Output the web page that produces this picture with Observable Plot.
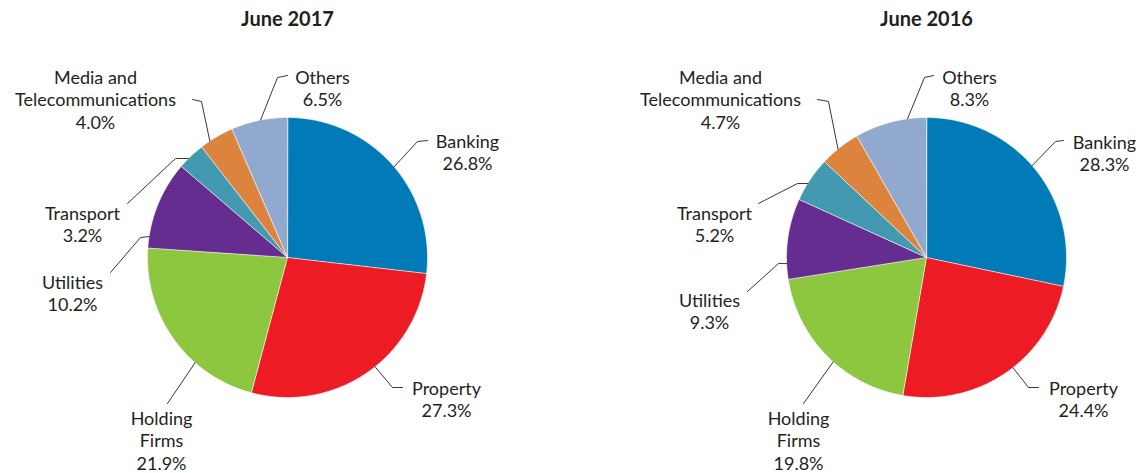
<!DOCTYPE html>
<html>
<head>
<meta charset="utf-8">
<script src="https://cdn.jsdelivr.net/npm/d3@7"></script>
<script src="https://cdn.jsdelivr.net/npm/@observablehq/plot@0.6"></script>
<style>
  html, body { margin: 0; padding: 0; background: #ffffff; }
  #chart svg { display: block; }
</style>
</head>
<body>
<div id="chart"></div>
<script>
// ---------- data ----------
const categories = ["Banking", "Property", "Holding Firms", "Utilities", "Transport", "Media and Telecommunications", "Others"];
const labelNames = ["Banking", "Property", "Holding\nFirms", "Utilities", "Transport", "Media and\nTelecommunications", "Others"];
const values2017 = [26.8, 27.3, 21.9, 10.2, 3.2, 4.0, 6.5];
const values2016 = [28.3, 24.4, 19.8, 9.3, 5.2, 4.7, 8.3];
const titles = ["June 2017", "June 2016"];
const colors = ["#007bb8", "#ed1c24", "#8dc63f", "#662d91", "#4299b0", "#dc843e", "#92a9cf"];

// ---------- layout ----------
const W = 1140, H = 473;
const R = 140;
const centers = [[287, 257], [926, 257]];
const titleY = 19;
const fontSize = 18;
const lineH = 1.26;
const ink = "#231f20";
// label anchor: [x center, y of first line middle]
const labelPos = [
  [[467, 140], [446, 387], [161, 417], [72, 281], [82, 212], [95, 76], [322, 76]],
  [[1104, 141], [1083, 387], [798, 417], [709, 299], [714, 212], [720, 76], [969, 76]]
];
// leader: [start angle on rim (deg, clockwise from top), ...bend points]
const leaders = [
  [[49.6, [417, 141], [427, 140]], [141.3, [392, 387], [402, 387]], [221.3, [167, 403]],
   [278.6, [140, 237], [110, 272]], [315, [175, 158], [127, 203]], [326.3, [201, 101], [192, 99]],
   [348.9, [277, 77], [287, 75]]],
  [[49, [1055, 141], [1063, 140]], [141.9, [1028, 387], [1038, 387]], [221.8, [803, 403]],
   [267.5, [778, 263], [747, 291]], [301.9, [797, 183], [758, 203]], [320.8, [828, 101], [817, 99]],
   [352.2, [924, 77], [933, 75]]]
];

// ---------- build geometry from data ----------
const series = [values2017, values2016];
const slicePts = [];
const labels = [];
const leaderPts = [];
series.forEach((vals, p) => {
  const [cx, cy] = centers[p];
  const arcs = d3.pie().sort(null).value(d => d)(vals);
  arcs.forEach((a, i) => {
    const key = p + "-" + i;
    slicePts.push({key, x: cx, y: cy, color: colors[i]});
    const n = Math.max(2, Math.ceil((a.endAngle - a.startAngle) / (Math.PI / 360)));
    for (let k = 0; k <= n; k++) {
      const t = a.startAngle + (a.endAngle - a.startAngle) * k / n;
      slicePts.push({key, x: cx + R * Math.sin(t), y: cy - R * Math.cos(t), color: colors[i]});
    }
    const text = labelNames[i] + "\n" + vals[i].toFixed(1) + "%";
    const nLines = text.split("\n").length;
    const [lx, ly] = labelPos[p][i];
    labels.push({x: lx, y: ly + (nLines - 1) * lineH * fontSize / 2, text, category: categories[i]});
    const [ang, ...pts] = leaders[p][i];
    const rad = ang * Math.PI / 180;
    leaderPts.push({key, x: cx + R * Math.sin(rad), y: cy - R * Math.cos(rad)});
    pts.forEach(([x, y]) => leaderPts.push({key, x, y}));
  });
});
const titleData = titles.map((t, p) => ({x: centers[p][0], y: titleY, text: t}));

const chart = Plot.plot({
  width: W,
  height: H,
  margin: 0,
  style: {fontFamily: "Lato, 'Open Sans', sans-serif", background: "#ffffff", color: ink},
  x: {domain: [0, W], range: [0, W], axis: null},
  y: {domain: [0, H], range: [0, H], axis: null},
  marks: [
    Plot.line(slicePts, {x: "x", y: "y", z: "key", fill: "color", stroke: "#ffffff", strokeWidth: 0.6, curve: "linear-closed"}),
    Plot.line(leaderPts, {x: "x", y: "y", z: "key", stroke: ink, strokeWidth: 0.9}),
    Plot.text(labels, {x: "x", y: "y", text: "text", fill: ink, fontSize, lineHeight: lineH, textAnchor: "middle", lineAnchor: "middle"}),
    Plot.text(titleData, {x: "x", y: "y", text: "text", fill: ink, fontSize: 20, fontWeight: "bold", textAnchor: "middle", lineAnchor: "middle"})
  ]
});
document.getElementById("chart").appendChild(chart);
</script>
</body>
</html>
